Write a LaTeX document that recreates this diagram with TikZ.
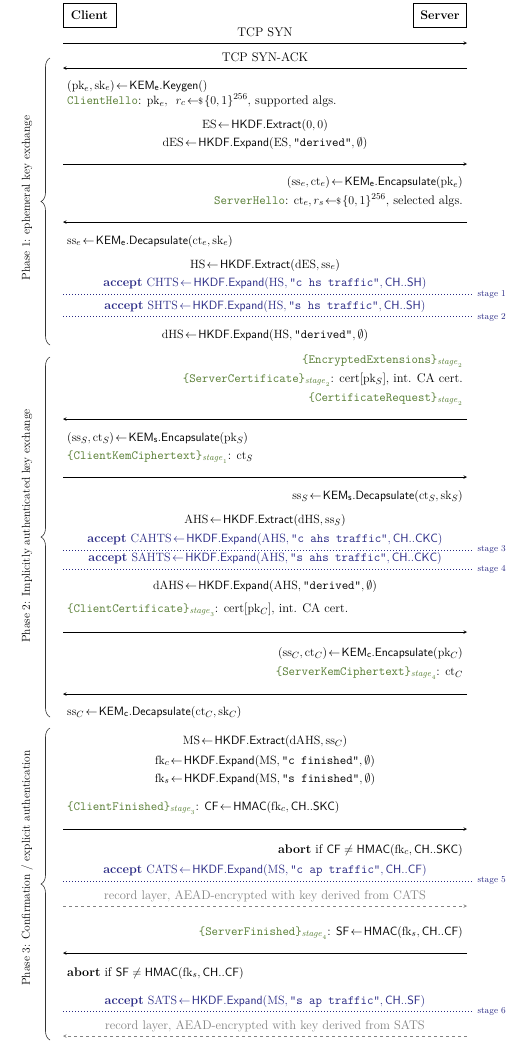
\documentclass[tikz,border=0pt]{standalone}
\usepackage{amsmath}
\usepackage{amssymb}
\usetikzlibrary{decorations.pathreplacing}
\definecolor{msggreen}{RGB}{86,124,50}
\definecolor{acceptblue}{RGB}{40,40,132}
\definecolor{recgray}{RGB}{130,130,130}
\newcommand{\encmsg}[2]{\textcolor{msggreen}{\texttt{\{#1\}}$_{\mathit{stage}_{#2}}$}}
\newcommand{\plainmsg}[1]{\textcolor{msggreen}{\texttt{#1}}}
\newcommand{\smpl}{\mathrel{\!\leftarrow\!\!{\scriptstyle\$}\!}}
\newcommand{\asgn}{\mathrel{\!\gets\!}}

\begin{document}
\begin{tikzpicture}[x=1pt,y=-1pt,>=stealth,
  every node/.style={font=\fontsize{12.5}{14}\selectfont, inner sep=1pt},
  party/.style={draw, semithick, font=\fontsize{12.5}{14}\selectfont\bfseries, minimum width=53pt, minimum height=24pt},
  msg/.style={semithick,->},
  stagesep/.style={acceptblue, dotted, line width=1pt},
  record/.style={recgray, semithick, dashed, ->},
  lft/.style={anchor=mid west},
  rgt/.style={anchor=mid east},
  ctr/.style={anchor=mid},
  stagelbl/.style={anchor=mid west, text=acceptblue, font=\fontsize{9}{10}\selectfont},
  phase/.style={rotate=90, font=\fontsize{11.5}{13}\selectfont},
  phasebrace/.style={decorate, decoration={brace, amplitude=9pt}, semithick, black!80}]
 \useasboundingbox (0,0) rectangle (526,1042);
 \node[party] (client) at (89.5,15) {Client};
 \node[party] (server) at (440,15) {Server};
 % TCP
 \coordinate (C1) at (63,43); \coordinate (S1) at (467,43);
 \node[ctr] (syn) at (265,34) {TCP SYN};
 \draw[msg] (C1) -- (S1);
 \coordinate (C2) at (63,68); \coordinate (S2) at (467,68);
 \node[ctr] (synack) at (265,59) {TCP SYN-ACK};
 \draw[msg] (S2) -- (C2);
 % Phase 1
 \node[lft] (keygen) at (66,87) {$(\mathrm{pk}_e, \mathrm{sk}_e)\asgn\mathsf{KEM}_\mathsf{e}.\mathsf{Keygen}()$};
 \node[lft] (ch) at (66,102) {\plainmsg{ClientHello}: $\mathrm{pk}_e$,~ $r_c \smpl \{0,1\}^{256}$, supported algs.};
 \node[ctr] (es) at (265,126) {$\mathrm{ES}\asgn\mathsf{HKDF.Extract}(0,0)$};
 \node[ctr] (des) at (265,144) {$\mathrm{dES}\asgn\mathsf{HKDF.Expand}(\mathrm{ES}, \texttt{"derived"}, \emptyset)$};
 \coordinate (C3) at (63,164); \coordinate (S3) at (467,164);
 \draw[msg] (C3) -- (S3);
 \node[rgt] (encape) at (464,183) {$(\mathrm{ss}_e, \mathrm{ct}_e)\asgn\mathsf{KEM}_\mathsf{e}.\mathsf{Encapsulate}(\mathrm{pk}_e)$};
 \node[rgt] (sh) at (464,202) {\plainmsg{ServerHello}: $\mathrm{ct}_e, r_s \smpl \{0,1\}^{256}$, selected algs.};
 \coordinate (C4) at (63,222); \coordinate (S4) at (467,222);
 \draw[msg] (S4) -- (C4);
 \node[lft] (decape) at (66,242) {$\mathrm{ss}_e\asgn\mathsf{KEM}_\mathsf{e}.\mathsf{Decapsulate}(\mathrm{ct}_e, \mathrm{sk}_e)$};
 \node[ctr] (hs) at (265,266) {$\mathrm{HS}\asgn\mathsf{HKDF.Extract}(\mathrm{dES}, \mathrm{ss}_e)$};
 \node[ctr,text=acceptblue] (chts) at (265,284) {\textbf{accept} $\mathrm{CHTS}\asgn\mathsf{HKDF.Expand}(\mathrm{HS}, \texttt{"c hs traffic"}, \mathsf{CH..SH})$};
 \coordinate (D1a) at (63,294); \coordinate (D1b) at (472,294);
 \draw[stagesep] (D1a) -- (D1b) node[stagelbl] (st1) at (476,294) {stage 1};
 \node[ctr,text=acceptblue] (shts) at (265,307) {\textbf{accept} $\mathrm{SHTS}\asgn\mathsf{HKDF.Expand}(\mathrm{HS}, \texttt{"s hs traffic"}, \mathsf{CH..SH})$};
 \coordinate (D2a) at (63,316); \coordinate (D2b) at (472,316);
 \draw[stagesep] (D2a) -- (D2b) node[stagelbl] (st2) at (476,317) {stage 2};
 \node[ctr] (dhs) at (265,336) {$\mathrm{dHS}\asgn\mathsf{HKDF.Expand}(\mathrm{HS}, \texttt{"derived"}, \emptyset)$};
 % Phase 2
 \node[rgt] (ee) at (464,361) {\encmsg{EncryptedExtensions}{2}};
 \node[rgt] (scert) at (464,380) {\encmsg{ServerCertificate}{2}: cert[$\mathrm{pk}_S$], int. CA cert.};
 \node[rgt] (creq) at (464,399) {\encmsg{CertificateRequest}{2}};
 \coordinate (C5) at (63,419); \coordinate (S5) at (467,419);
 \draw[msg] (S5) -- (C5);
 \node[lft] (encaps) at (66,439) {$(\mathrm{ss}_S, \mathrm{ct}_S)\asgn\mathsf{KEM}_\mathsf{s}.\mathsf{Encapsulate}(\mathrm{pk}_S)$};
 \node[lft] (ckc) at (66,457) {\encmsg{ClientKemCiphertext}{1}: $\mathrm{ct}_S$};
 \coordinate (C6) at (63,477); \coordinate (S6) at (467,477);
 \draw[msg] (C6) -- (S6);
 \node[rgt] (decaps) at (464,497) {$\mathrm{ss}_S\asgn\mathsf{KEM}_\mathsf{s}.\mathsf{Decapsulate}(\mathrm{ct}_S, \mathrm{sk}_S)$};
 \node[ctr] (ahs) at (265,521) {$\mathrm{AHS}\asgn\mathsf{HKDF.Extract}(\mathrm{dHS}, \mathrm{ss}_S)$};
 \node[ctr,text=acceptblue] (cahts) at (265,540) {\textbf{accept} $\mathrm{CAHTS}\asgn\mathsf{HKDF.Expand}(\mathrm{AHS}, \texttt{"c ahs traffic"}, \mathsf{CH..CKC})$};
 \coordinate (D3a) at (63,550); \coordinate (D3b) at (472,550);
 \draw[stagesep] (D3a) -- (D3b) node[stagelbl] (st3) at (476,549) {stage 3};
 \node[ctr,text=acceptblue] (sahts) at (265,559) {\textbf{accept} $\mathrm{SAHTS}\asgn\mathsf{HKDF.Expand}(\mathrm{AHS}, \texttt{"s ahs traffic"}, \mathsf{CH..CKC})$};
 \coordinate (D4a) at (63,569); \coordinate (D4b) at (472,569);
 \draw[stagesep] (D4a) -- (D4b) node[stagelbl] (st4) at (476,569) {stage 4};
 \node[ctr] (dahs) at (265,587) {$\mathrm{dAHS}\asgn\mathsf{HKDF.Expand}(\mathrm{AHS}, \texttt{"derived"}, \emptyset)$};
 \node[lft] (ccert) at (66,610) {\encmsg{ClientCertificate}{3}: cert[$\mathrm{pk}_C$], int. CA cert.};
 \coordinate (C7) at (63,632); \coordinate (S7) at (467,632);
 \draw[msg] (C7) -- (S7);
 \node[rgt] (encapc) at (464,654) {$(\mathrm{ss}_C, \mathrm{ct}_C)\asgn\mathsf{KEM}_\mathsf{c}.\mathsf{Encapsulate}(\mathrm{pk}_C)$};
 \node[rgt] (skc) at (464,673) {\encmsg{ServerKemCiphertext}{4}: $\mathrm{ct}_C$};
 \coordinate (C8) at (63,694); \coordinate (S8) at (467,694);
 \draw[msg] (S8) -- (C8);
 \node[lft] (decapc) at (66,713) {$\mathrm{ss}_C\asgn\mathsf{KEM}_\mathsf{c}.\mathsf{Decapsulate}(\mathrm{ct}_C, \mathrm{sk}_C)$};
 % Phase 3
 \node[ctr] (ms) at (265,742) {$\mathrm{MS}\asgn\mathsf{HKDF.Extract}(\mathrm{dAHS}, \mathrm{ss}_C)$};
 \node[ctr] (fkc) at (265,762) {$\mathrm{fk}_c\asgn\mathsf{HKDF.Expand}(\mathrm{MS}, \texttt{"c finished"}, \emptyset)$};
 \node[ctr] (fks) at (265,780) {$\mathrm{fk}_s\asgn\mathsf{HKDF.Expand}(\mathrm{MS}, \texttt{"s finished"}, \emptyset)$};
 \node[lft] (cf) at (66,808) {\encmsg{ClientFinished}{3}: $\mathsf{CF}\asgn\mathsf{HMAC}(\mathrm{fk}_c, \mathsf{CH..SKC})$};
 \coordinate (C9) at (63,829); \coordinate (S9) at (467,829);
 \draw[msg] (C9) -- (S9);
 \node[rgt] (abrts) at (464,851) {\textbf{abort} if $\mathsf{CF}\neq\mathsf{HMAC}(\mathrm{fk}_c, \mathsf{CH..SKC})$};
 \node[ctr,text=acceptblue] (cats) at (265,871) {\textbf{accept} $\mathrm{CATS}\asgn\mathsf{HKDF.Expand}(\mathrm{MS}, \texttt{"c ap traffic"}, \mathsf{CH..CF})$};
 \coordinate (D5a) at (63,881); \coordinate (D5b) at (472,881);
 \draw[stagesep] (D5a) -- (D5b) node[stagelbl] (st5) at (476,880) {stage 5};
 \node[ctr,text=recgray] (recc) at (265,897) {record layer, AEAD-encrypted with key derived from CATS};
 \coordinate (C10) at (63,906); \coordinate (S10) at (467,906);
 \draw[record] (C10) -- (S10);
 \node[rgt] (sf) at (464,933) {\encmsg{ServerFinished}{4}: $\mathsf{SF}\asgn\mathsf{HMAC}(\mathrm{fk}_s, \mathsf{CH..CF})$};
 \coordinate (C11) at (63,953); \coordinate (S11) at (467,953);
 \draw[msg] (S11) -- (C11);
 \node[lft] (abrtc) at (66,974) {\textbf{abort} if $\mathsf{SF}\neq\mathsf{HMAC}(\mathrm{fk}_s, \mathsf{CH..CF})$};
 \node[ctr,text=acceptblue] (sats) at (265,1002) {\textbf{accept} $\mathrm{SATS}\asgn\mathsf{HKDF.Expand}(\mathrm{MS}, \texttt{"s ap traffic"}, \mathsf{CH..SF})$};
 \coordinate (D6a) at (63,1011); \coordinate (D6b) at (472,1011);
 \draw[stagesep] (D6a) -- (D6b) node[stagelbl] (st6) at (476,1011) {stage 6};
 \node[ctr,text=recgray] (recs) at (265,1027) {record layer, AEAD-encrypted with key derived from SATS};
 \coordinate (C12) at (63,1036); \coordinate (S12) at (467,1036);
 \draw[record] (S12) -- (C12);
 % phases
 \draw[phasebrace] (50,345) -- (50,58);
 \node[phase] (ph1) at (27,198) {Phase 1: ephemeral key exchange};
 \draw[phasebrace] (50,717) -- (50,357);
 \node[phase] (ph2) at (27,526) {Phase 2: Implicitly authenticated key exchange};
 \draw[phasebrace] (50,1040) -- (50,728);
 \node[phase] (ph3) at (27,868) {Phase 3: Confirmation / explicit authentication};
\end{tikzpicture}
\end{document}
